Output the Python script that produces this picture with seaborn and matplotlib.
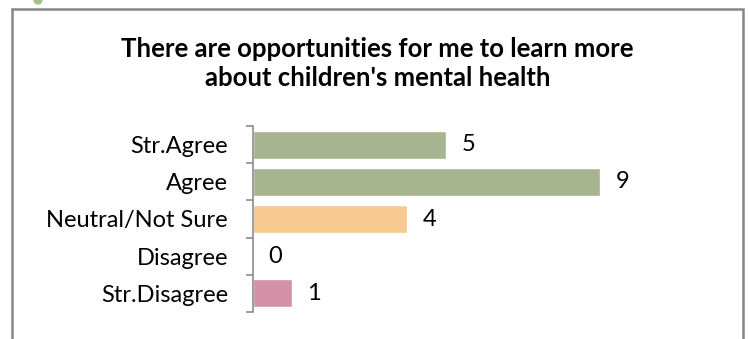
import matplotlib.pyplot as plt
from matplotlib.patches import Rectangle, Ellipse
import pandas as pd
import seaborn as sns

categories = ['Str.Agree', 'Agree', 'Neutral/Not Sure', 'Disagree', 'Str.Disagree']
counts = [5, 9, 4, 0, 1]
bar_colors = ['#a6b48f', '#a6b48f', '#f7c88f', '#d9d9d9', '#d291a6']
title = "There are opportunities for me to learn more\nabout children's mental health"

df = pd.DataFrame({'answer': categories, 'count': counts})

sns.set_style('white')
plt.rcParams['font.family'] = ['Lato', 'DejaVu Sans']
plt.rcParams['text.color'] = 'black'
plt.rcParams['ytick.color'] = 'black'

fig = plt.figure(figsize=(7.48, 3.39), dpi=100)
ax = fig.add_axes([253 / 748, 27 / 339, 463 / 748, 186 / 339])

sns.barplot(data=df, x='count', y='answer', hue='answer', palette=bar_colors,
            order=categories, width=0.75, legend=False, ax=ax, saturation=1)

ax.set_xlim(0, 12)
ax.set_ylim(4.5, -0.5)
ax.set_xlabel('')
ax.set_ylabel('')
ax.set_xticks([])
for side in ['top', 'right', 'bottom']:
    ax.spines[side].set_visible(False)
ax.spines['left'].set_color('#8c8c8c')
ax.spines['left'].set_linewidth(1.2)

ax.set_yticks([-0.5, 0.5, 1.5, 2.5, 3.5, 4.5], minor=True)
ax.tick_params(axis='y', which='minor', length=5, color='#8c8c8c', width=1.2, left=True)
ax.tick_params(axis='y', which='major', length=0, pad=18, labelsize=17,
               labelcolor='black')

for cont in ax.containers:
    ax.bar_label(cont, padding=11, fontsize=17, color='black')

fig.text(0.505, 0.812, title, ha='center', va='center', fontsize=18.5,
         fontweight='bold', linespacing=1.25, color='black')

# outer chart frame
fig.patches.append(Rectangle((12 / 748, -0.1), 731 / 748, 1.1 - 9 / 339,
                             transform=fig.transFigure, fill=False,
                             edgecolor='#868686', linewidth=1.8))
fig.patches.append(Ellipse((38 / 748, 1.0), 8 / 748, 8 / 339,
                           transform=fig.transFigure, color='#a6c48a'))

fig.savefig('out.png', dpi=100)
